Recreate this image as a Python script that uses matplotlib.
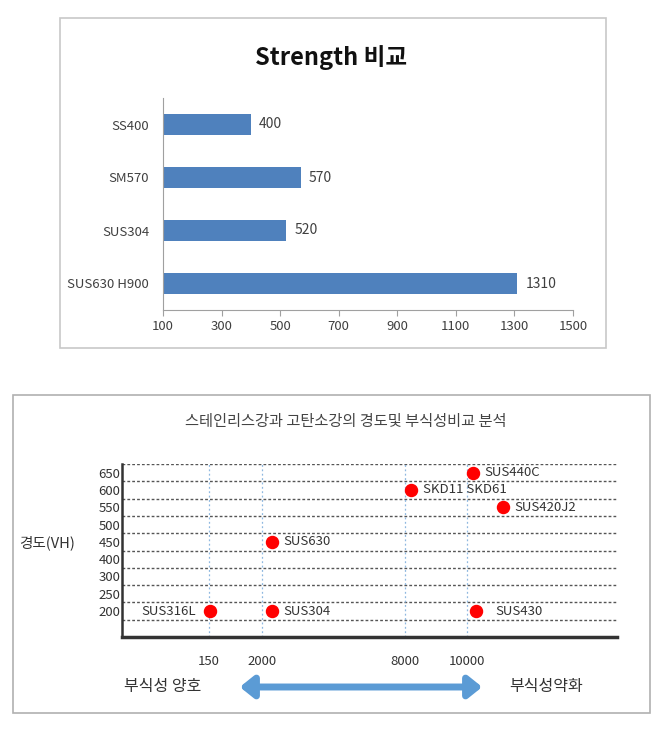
import matplotlib.pyplot as plt
import numpy as np
from matplotlib.patches import Rectangle, FancyArrowPatch

plt.rcParams['font.family'] = ['Noto Sans CJK KR', 'DejaVu Sans']

# top chart: strength
steels = ["SS400", "SM570", "SUS304", "SUS630 H900"]
strength = [400, 570, 520, 1310]
str_ticks = [100, 300, 500, 700, 900, 1100, 1300, 1500]

# bottom chart: hardness vs corrosion
hard_levels = [200, 250, 300, 400, 450, 500, 550, 600, 650]
corr_ticks = [150, 2000, 8000, 10000]
pt_names = ["SUS316L", "SUS304", "SUS630", "SKD11 SKD61", "SUS440C", "SUS420J2", "SUS430"]
pt_corr = [180, 2400, 2400, 8200, 10200, 11200, 10300]
pt_hard = [200, 200, 450, 600, 650, 550, 200]

fig = plt.figure(figsize=(6.52, 7.37), dpi=100)
W, H = 652, 737

def box(x0, y0, x1, y1, ec):
    fig.patches.append(Rectangle((x0 / W, 1 - y1 / H), (x1 - x0) / W, (y1 - y0) / H,
                                 transform=fig.transFigure, fill=False, ec=ec, lw=1.2))

box(60, 18, 606, 348, "#c8c8c8")
box(13, 395, 650, 713, "#b0b0b0")

# ---- top bar chart
ax1 = fig.add_axes([163 / W, 1 - 310 / H, 410 / W, 212 / H])
ypos = np.arange(len(steels))[::-1]
ax1.barh(ypos, [s - 100 for s in strength], left=100, height=0.41, color="#4f81bd")
for y, v in zip(ypos, strength):
    ax1.text(v + 28, y, str(v), va="center", ha="left", fontsize=10, color="#404040")
ax1.set_yticks(ypos)
ax1.set_yticklabels(steels, fontsize=9.5, color="#404040")
ax1.set_xticks(str_ticks)
ax1.set_xticklabels(str_ticks, fontsize=9.5, color="#404040")
ax1.set_xlim(100, 1500)
ax1.set_ylim(-0.5, 3.5)
for s in ["top", "right"]:
    ax1.spines[s].set_visible(False)
for s in ["left", "bottom"]:
    ax1.spines[s].set_color("#a0a0a0")
ax1.tick_params(axis="y", length=0, pad=10)
ax1.tick_params(axis="x", length=4, color="#a0a0a0", direction="out", pad=3)
fig.text(331 / W, 1 - 58 / H, "Strength 비교", ha="center", va="center",
         fontsize=17, fontweight="bold", color="#111111")

# ---- bottom scatter chart (non-linear corrosion axis)
anch_v = [0, 150, 2000, 8000, 10000, 15000]
anch_p = [0, 87, 140, 283, 345, 495]

def fwd(x):
    return np.interp(x, anch_v, anch_p)

def inv(p):
    return np.interp(p, anch_p, anch_v)

ax2 = fig.add_axes([122 / W, 1 - 637 / H, 495 / W, 173 / H])
ax2.set_xscale("function", functions=(fwd, inv))
ax2.set_xlim(0, 15000)
ax2.set_ylim(-1.5, 8.5)
hy = [hard_levels.index(h) for h in pt_hard]
for k in range(len(hard_levels) + 1):
    ax2.axhline(k - 0.5, color="#555555", lw=1.0, ls=(0, (2, 1.5)), zorder=1)
for c in corr_ticks:
    ax2.axvline(c, color="#8fb8e0", lw=0.9, ls=(0, (1.5, 2)), zorder=1)
ax2.scatter(pt_corr, hy, s=75, color="#ff0000", zorder=3)
for name, c, y in zip(pt_names, pt_corr, hy):
    if name == "SUS316L":
        ax2.annotate(name, (c, y), xytext=(-10, 0), textcoords="offset points",
                     ha="right", va="center", fontsize=9.5, color="#333333")
    else:
        dx = 14 if name == "SUS430" else 8.5
        ax2.annotate(name, (c, y), xytext=(dx, 0), textcoords="offset points",
                     ha="left", va="center", fontsize=9.5, color="#333333")
ax2.set_yticks(range(len(hard_levels)))
ax2.set_yticklabels(hard_levels, fontsize=9.5, color="#333333")
ax2.set_xticks(corr_ticks)
ax2.set_xticklabels(corr_ticks, fontsize=9.5, color="#333333")
ax2.tick_params(axis="both", length=0)
ax2.tick_params(axis="x", pad=13)
ax2.tick_params(axis="y", pad=1)
for s in ["top", "right"]:
    ax2.spines[s].set_visible(False)
ax2.spines["left"].set_color("#333333")
ax2.spines["left"].set_linewidth(1.8)
ax2.spines["bottom"].set_color("#333333")
ax2.spines["bottom"].set_linewidth(2.5)

fig.text(346 / W, 1 - 422 / H, "스테인리스강과 고탄소강의 경도및 부식성비교 분석",
         ha="center", va="center", fontsize=11, color="#444444")
fig.text(47 / W, 1 - 543 / H, "경도(VH)", ha="center", va="center", fontsize=10.5, color="#333333")
fig.text(163 / W, 1 - 687 / H, "부식성 양호", ha="center", va="center", fontsize=11.5, color="#333333")
fig.text(546 / W, 1 - 687 / H, "부식성약화", ha="center", va="center", fontsize=11.5, color="#333333")
fig.add_artist(FancyArrowPatch(
    (237 / W, 1 - 687 / H), (485 / W, 1 - 687 / H), transform=fig.transFigure,
    arrowstyle="<|-|>,head_length=0.5,head_width=0.4", mutation_scale=16,
    lw=5, color="#5b9bd5"))

fig.savefig("out.png", dpi=100)
